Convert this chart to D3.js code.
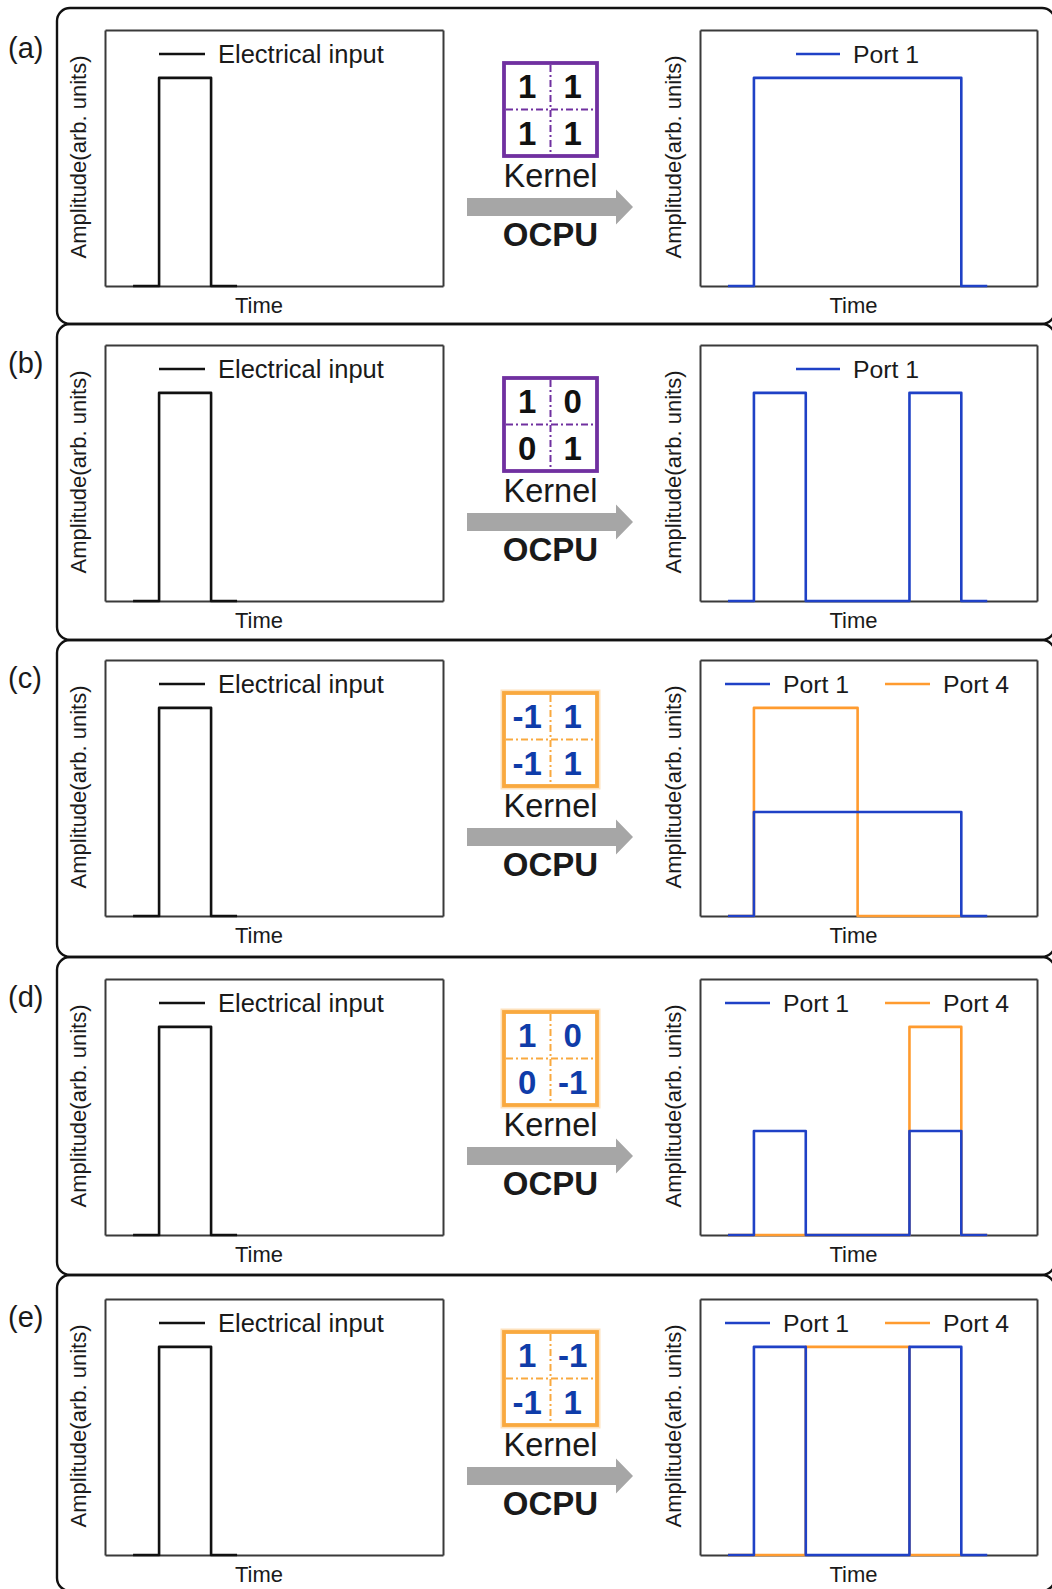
<!DOCTYPE html>
<html>
<head>
<meta charset="utf-8">
<script src="https://cdn.jsdelivr.net/npm/d3@7"></script>
<style>
  html, body { margin: 0; padding: 0; background: #fff; }
  svg { display: block; }
  text { font-family: "Liberation Sans", Arial, Helvetica, sans-serif; }
</style>
</head>
<body>
<svg id="chart" width="1052" height="1589"></svg>
<script>
// ---------------- DATA ----------------
const panelLabels = ["(a)", "(b)", "(c)", "(d)", "(e)"];

// step traces: [time (slot units), amplitude], drawn with a step-after curve
const inputTrace = [[0, 0], [0.5, 1], [1.5, 0], [2, 0]];

const port1Traces = [
  [[0, 0], [0.5, 1], [4.5, 0], [5, 0]],
  [[0, 0], [0.5, 1], [1.5, 0], [3.5, 1], [4.5, 0], [5, 0]],
  [[0, 0], [0.5, 0.5], [4.5, 0], [5, 0]],
  [[0, 0], [0.5, 0.5], [1.5, 0], [3.5, 0.5], [4.5, 0], [5, 0]],
  [[0, 0], [0.5, 1], [1.5, 0], [3.5, 1], [4.5, 0], [5, 0]]
];

const port4Traces = [
  null,
  null,
  [[0, 0], [0.5, 1], [2.5, 0], [4.5, 0]],
  [[0, 0], [3.5, 1], [4.5, 0], [5, 0]],
  [[0, 0], [1.5, 1], [3.5, 0], [4.5, 0]]
];

const kernels = [
  [["1", "1"], ["1", "1"]],
  [["1", "0"], ["0", "1"]],
  [["-1", "1"], ["-1", "1"]],
  [["1", "0"], ["0", "-1"]],
  [["1", "-1"], ["-1", "1"]]
];

const inputLegend = "Electrical input";
const portNames = ["Port 1", "Port 4"];
const yLabel = "Amplitude(arb. units)";
const xLabel = "Time";
const kernelLabel = "Kernel";
const unitLabel = "OCPU";

// ---------------- LAYOUT ----------------
const svg = d3.select("#chart");
const frameTops = [8, 324, 640, 957, 1275, 1591];
const boxTops = [30, 345, 660, 979, 1299];
const boxH = 256;
const leftBox = [105, 443];
const rightBox = [700, 1037];
const tDomain = [-0.54, 5.96];
const aDomain = [0, 1.23];

const BLUE = "#1f41c6";
const ORANGE = "#ff9b2f";
const PURPLE = "#7030a0";
const KORANGE = "#f9a93f";
const KBLUE = "#0f3ca9";
const ARROW = "#a6a6a6";
const TXT = "#1a1a1a";

// frames (rounded rectangles sharing horizontal edges)
for (let i = 0; i < 5; i++) {
  svg.append("rect")
    .attr("x", 57).attr("y", frameTops[i])
    .attr("width", 1055 - 57).attr("height", frameTops[i + 1] - frameTops[i])
    .attr("rx", 13).attr("ry", 13)
    .attr("fill", "none").attr("stroke", "#111").attr("stroke-width", 2.4);
}

function drawPlot(g, xr, top, traces, colors) {
  const x = d3.scaleLinear().domain(tDomain).range(xr);
  const y = d3.scaleLinear().domain(aDomain).range([top + boxH, top]);
  const line = d3.line().x(d => x(d[0])).y(d => y(d[1])).curve(d3.curveStepAfter);
  const styleDomain = sel => sel.select(".domain").attr("stroke", "#3a3a3a").attr("stroke-width", 2);
  g.append("g").attr("transform", `translate(0,${top + boxH})`)
    .call(d3.axisBottom(x).tickValues([]).tickSizeOuter(0)).call(styleDomain);
  g.append("g").attr("transform", `translate(0,${top})`)
    .call(d3.axisTop(x).tickValues([]).tickSizeOuter(0)).call(styleDomain);
  g.append("g").attr("transform", `translate(${xr[0]},0)`)
    .call(d3.axisLeft(y).tickValues([]).tickSizeOuter(0)).call(styleDomain);
  g.append("g").attr("transform", `translate(${xr[1]},0)`)
    .call(d3.axisRight(y).tickValues([]).tickSizeOuter(0)).call(styleDomain);

  traces.forEach((tr, k) => {
    if (!tr) return;
    g.append("path").datum(tr).attr("d", line)
      .attr("fill", "none").attr("stroke", colors[k])
      .attr("stroke-width", 2.6).attr("stroke-linejoin", "round");
  });

  g.append("text")
    .attr("transform", `translate(${xr[0] - 19},${top + boxH / 2 - 1}) rotate(-90)`)
    .attr("text-anchor", "middle").attr("font-size", 22).attr("fill", TXT)
    .text(yLabel);
  g.append("text")
    .attr("x", (xr[0] + xr[1]) / 2 - 15).attr("y", top + boxH + 27)
    .attr("text-anchor", "middle").attr("font-size", 22).attr("fill", TXT)
    .text(xLabel);
}

function legendItem(g, x1, x2, y, color, label, fs) {
  g.append("line").attr("x1", x1).attr("x2", x2).attr("y1", y).attr("y2", y)
    .attr("stroke", color).attr("stroke-width", 2.6);
  g.append("text").attr("x", x2 + 13).attr("y", y + 9)
    .attr("font-size", fs).attr("fill", TXT).text(label);
}

for (let i = 0; i < 5; i++) {
  const top = boxTops[i];
  const g = svg.append("g");

  // panel label
  g.append("text").attr("x", 8).attr("y", top + 28)
    .attr("font-size", 29).attr("fill", TXT).text(panelLabels[i]);

  // left plot
  drawPlot(g, leftBox, top, [inputTrace], ["#111"]);
  legendItem(g, 159, 205, top + 24, "#111", inputLegend, 25.5);

  // right plot
  const twoPorts = !!port4Traces[i];
  drawPlot(g, rightBox, top, [port4Traces[i], port1Traces[i]], [ORANGE, BLUE]);
  if (twoPorts) {
    legendItem(g, 725, 770, top + 24, BLUE, portNames[0], 24.8);
    legendItem(g, 885, 930, top + 24, ORANGE, portNames[1], 24.8);
  } else {
    legendItem(g, 796, 840, top + 24, BLUE, portNames[0], 24.8);
  }

  // kernel
  const kc = i < 2 ? PURPLE : KORANGE;
  const nc = i < 2 ? "#111" : KBLUE;
  const kx = 504, ky = top + 33, ks = 93;
  if (i >= 2) {
    g.append("rect").attr("x", kx).attr("y", ky).attr("width", ks).attr("height", ks)
      .attr("fill", "none").attr("stroke", kc).attr("stroke-opacity", 0.35).attr("stroke-width", 7);
  }
  g.append("rect").attr("x", kx).attr("y", ky).attr("width", ks).attr("height", ks)
    .attr("fill", "#fff").attr("stroke", kc).attr("stroke-width", 3.8);
  g.append("line").attr("x1", kx + ks / 2).attr("x2", kx + ks / 2)
    .attr("y1", ky + 2).attr("y2", ky + ks - 2)
    .attr("stroke", kc).attr("stroke-width", 2).attr("stroke-dasharray", "7,3,2,3");
  g.append("line").attr("x1", kx + 2).attr("x2", kx + ks - 2)
    .attr("y1", ky + ks / 2).attr("y2", ky + ks / 2)
    .attr("stroke", kc).attr("stroke-width", 2).attr("stroke-dasharray", "7,3,2,3");
  kernels[i].forEach((row, r) => {
    row.forEach((v, c) => {
      g.append("text")
        .attr("x", kx + ks / 4 + c * ks / 2 + (c === 0 ? 0 : -1))
        .attr("y", ky + ks / 4 + r * ks / 2 + 12)
        .attr("text-anchor", "middle").attr("font-size", 33).attr("font-weight", "bold")
        .attr("fill", nc).text(v);
    });
  });
  g.append("text").attr("x", kx + ks / 2).attr("y", top + 157)
    .attr("text-anchor", "middle").attr("font-size", 32.5).attr("fill", TXT)
    .text(kernelLabel);

  // arrow
  const ay = top + 177;
  g.append("path")
    .attr("d", `M467,${ay - 9} L616,${ay - 9} L616,${ay - 17.5} L633,${ay} L616,${ay + 17.5} L616,${ay + 9} L467,${ay + 9} Z`)
    .attr("fill", ARROW);

  g.append("text").attr("x", kx + ks / 2).attr("y", top + 216)
    .attr("text-anchor", "middle").attr("font-size", 33).attr("font-weight", "bold")
    .attr("fill", TXT).text(unitLabel);
}
</script>
</body>
</html>
